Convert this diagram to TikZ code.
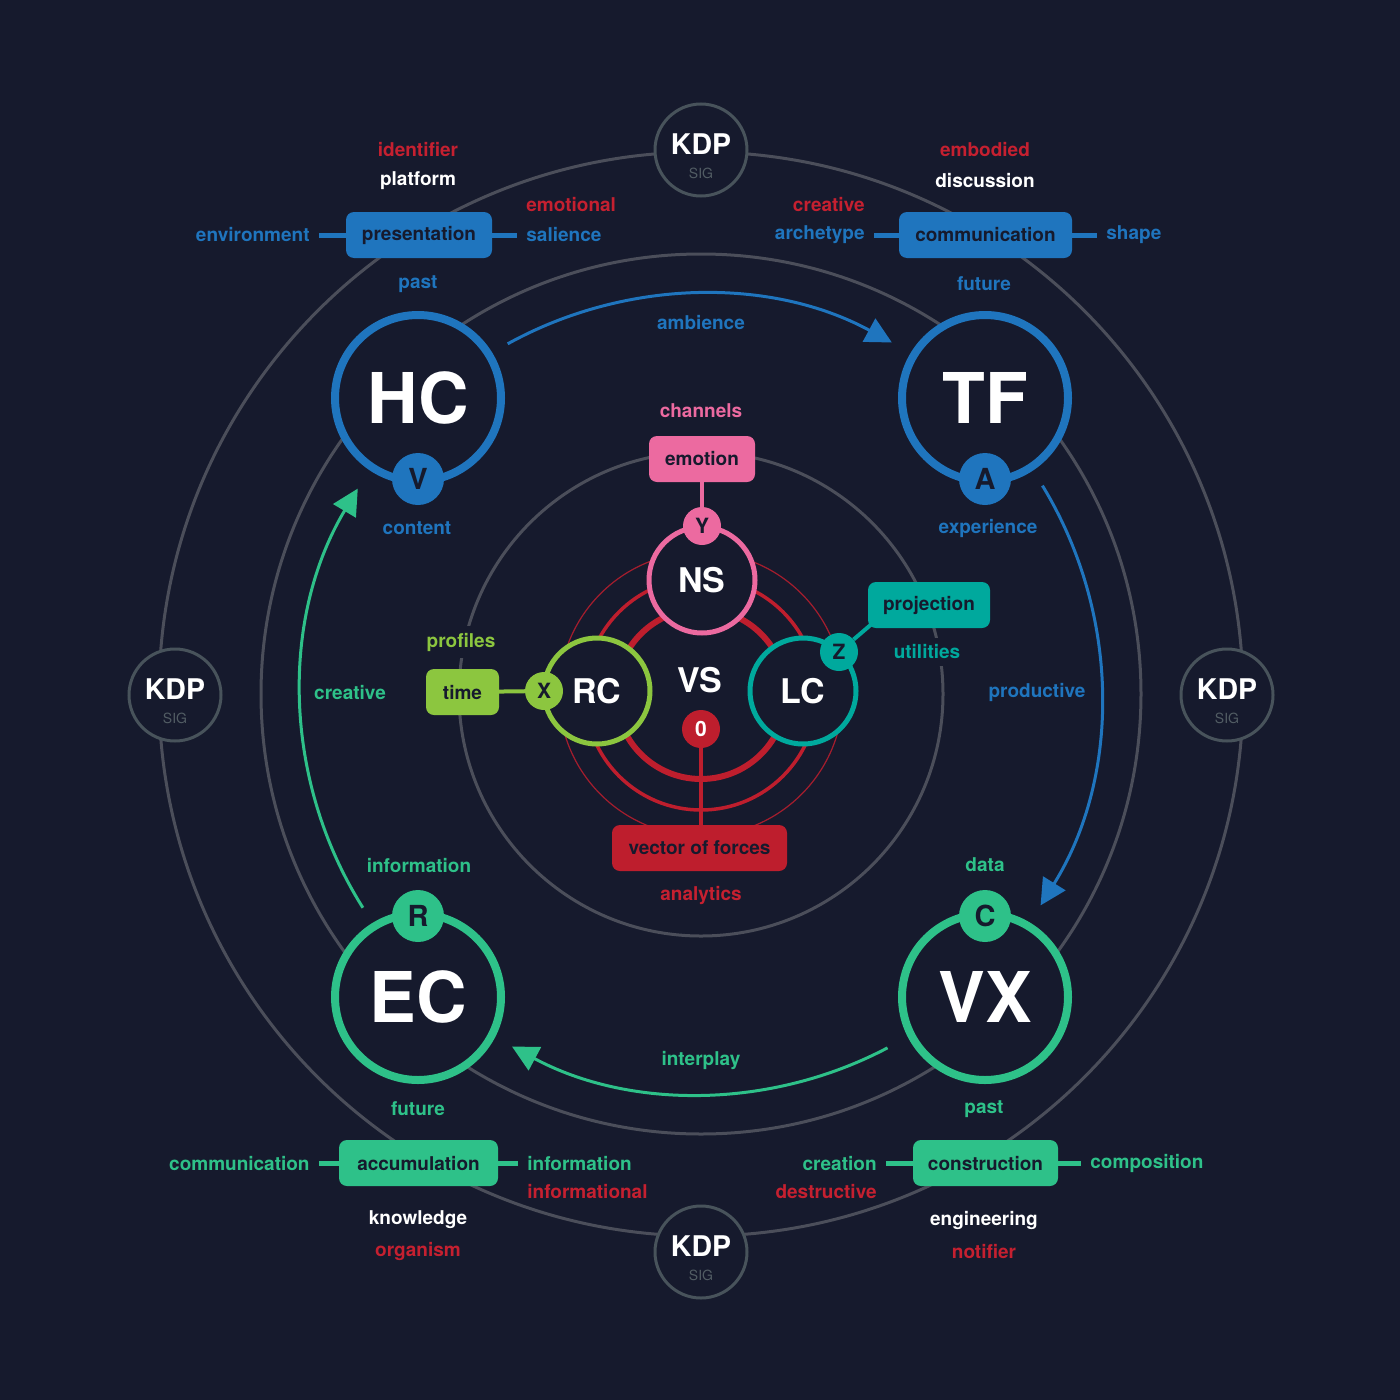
\documentclass[tikz,border=0pt]{standalone}
\usepackage{fontspec}
\setmainfont{TeX Gyre Heros}
\usetikzlibrary{arrows.meta,calc}
\definecolor{bg}{HTML}{161A2D}
\definecolor{cblue}{HTML}{1F75BE}
\definecolor{cgreen}{HTML}{2EC189}
\definecolor{cred}{HTML}{BE1E2D}
\definecolor{ctred}{HTML}{C52030}
\definecolor{cpink}{HTML}{EC6AA0}
\definecolor{clime}{HTML}{8CC63F}
\definecolor{cteal}{HTML}{00A99D}
\definecolor{cgray}{HTML}{4B4E5A}
\definecolor{kgray}{HTML}{48535B}
\definecolor{sgray}{HTML}{525D64}
\pgfdeclarelayer{back}
\pgfdeclarelayer{mid}
\pgfsetlayers{back,mid,main}
\newcommand\labfont{\fontsize{19}{21}\selectfont\bfseries}
\begin{document}
\begin{tikzpicture}[x=1pt,y=-1pt,
  lab/.style={font=\labfont, inner xsep=9, inner ysep=2},
  knock/.style={fill=bg, inner ysep=7, inner xsep=6},
  box/.style={rounded corners=8, minimum height=46, inner xsep=0, inner ysep=0, text=bg, font=\labfont},
  bigc/.style={circle, line width=8, minimum size=166, inner sep=0, fill=bg, text=white, font=\fontsize{70}{70}\selectfont\bfseries},
  tagc/.style={circle, minimum size=52, inner sep=0, text=bg, font=\fontsize{29}{29}\selectfont\bfseries},
  midc/.style={circle, line width=5, minimum size=106, inner sep=0, fill=bg, text=white, font=\fontsize{34}{34}\selectfont\bfseries},
  dotc/.style={circle, minimum size=38, inner sep=0, text=bg, font=\fontsize{21}{21}\selectfont\bfseries},
  kdpc/.style={circle, draw=kgray, line width=3, fill=bg, minimum size=92, inner sep=0},
  kdpt/.style={font=\fontsize{28.5}{28.5}\selectfont\bfseries, text=white, inner sep=0},
  sigt/.style={font=\fontsize{14}{14}\selectfont, text=sgray, inner sep=0},
  ring/.style={draw=cgray, line width=3},
  stub/.style={line width=5},
  link/.style={line width=4},
  flow/.style={line width=3, -{Triangle[length=26pt,width=26pt]}},
]
\coordinate (O) at (701,694);

% ---------- KDP markers ----------
\node[kdpc] (k1) at (701,150) {};
\node[kdpt] (k1t) at (701,144) {KDP};
\node[sigt] (k1s) at (701,173) {SIG};
\node[kdpc] (k2) at (175,695) {};
\node[kdpt] (k2t) at (175,689) {KDP};
\node[sigt] (k2s) at (175,718) {SIG};
\node[kdpc] (k3) at (1227,695) {};
\node[kdpt] (k3t) at (1227,689) {KDP};
\node[sigt] (k3s) at (1227,718) {SIG};
\node[kdpc] (k4) at (701,1252) {};
\node[kdpt] (k4t) at (701,1246) {KDP};
\node[sigt] (k4s) at (701,1275) {SIG};

% ---------- big circles ----------
\node[bigc, draw=cblue] (HC) at (418,398) {HC};
\node[bigc, draw=cblue] (TF) at (985,398) {TF};
\node[bigc, draw=cgreen] (EC) at (418,997) {EC};
\node[bigc, draw=cgreen] (VX) at (985,997) {VX};
\node[tagc, fill=cblue] (V) at (418,479) {V};
\node[tagc, fill=cblue] (A) at (985,479) {A};
\node[tagc, fill=cgreen] (R) at (418,916) {R};
\node[tagc, fill=cgreen] (C) at (985,916) {C};

% ---------- centre ----------
\node[midc, draw=cpink] (NS) at (702,580) {NS};
\node[midc, draw=clime] (RC) at (597,691) {RC};
\node[midc, draw=cteal] (LC) at (803,691) {LC};
\node[font=\fontsize{34}{34}\selectfont\bfseries, text=white] (VS) at (700,680) {VS};
\node[dotc, fill=cpink] (Y) at (702,526) {Y};
\node[dotc, fill=clime] (X) at (544,691) {X};
\node[dotc, fill=cteal] (Z) at (839,652) {Z};
\node[dotc, fill=cred, text=white] (zero) at (701,729) {0};

% ---------- boxes ----------
\node[box, fill=cblue, minimum width=146] (pres) at (419,235) {presentation};
\node[box, fill=cblue, minimum width=173] (comm) at (985.5,235) {communication};
\node[box, fill=cgreen, minimum width=159] (acc) at (418.5,1163) {accumulation};
\node[box, fill=cgreen, minimum width=145] (cons) at (985.5,1163) {construction};
\node[box, fill=cpink, minimum width=106] (emo) at (702,459) {emotion};
\node[box, fill=cteal, minimum width=122] (proj) at (929,605) {projection};
\node[box, fill=clime, minimum width=73] (time) at (462.5,692) {time};
\node[box, fill=cred, minimum width=175] (vof) at (699.5,848) {vector of forces};

% ---------- stub labels ----------
\node[lab, text=cblue, anchor=east] (env) at ([xshift=-27]pres.west) {environment};
\node[lab, text=cblue, anchor=west] (sal) at ([xshift=25]pres.east) {salience};
\node[lab, text=ctred, anchor=west] (emotional) at ([yshift=30]sal.west) {emotional};
\node[lab, text=cblue, anchor=east] (arch) at ([xshift=-25]comm.west) {archetype};
\node[lab, text=cblue, anchor=west] (shape) at ([xshift=25]comm.east) {shape};
\node[lab, text=ctred, anchor=east] (creat) at ([yshift=30]arch.east) {creative};
\node[lab, text=cgreen, anchor=east] (gcomm) at ([xshift=-20]acc.west) {communication};
\node[lab, text=cgreen, anchor=west] (ginfo) at ([xshift=20]acc.east) {information};
\node[lab, text=ctred, anchor=west] (infal) at ([yshift=-28]ginfo.west) {informational};
\node[lab, text=cgreen, anchor=east] (crea) at ([xshift=-27]cons.west) {creation};
\node[lab, text=cgreen, anchor=west] (compo) at ([xshift=23]cons.east) {composition};
\node[lab, text=ctred, anchor=east] (destr) at ([yshift=-28]crea.east) {destructive};

% ---------- free labels ----------
\node[lab, text=ctred] (ident) at (418,150) {identifier};
\node[lab, text=white] (plat) at (418,181) {platform};
\node[lab, text=cblue] (past1) at (418,284) {past};
\node[lab, text=ctred] (embo) at (985,150) {embodied};
\node[lab, text=white] (disc) at (985,181) {discussion};
\node[lab, text=cblue] (fut1) at (984,284) {future};
\node[lab, text=cblue] (amb) at (701,323) {ambience};
\node[lab, text=cpink] (chan) at (701,411) {channels};
\node[lab, text=cblue] (cont) at (417,528) {content};
\node[lab, text=cblue] (expe) at (988,528) {experience};
\node[lab, text=cteal, knock] (util) at (927,652) {utilities};
\node[lab, text=clime, knock] (prof) at (461,642) {profiles};
\node[lab, text=cblue] (prod) at (1037,692) {productive};
\node[lab, text=cgreen] (crv) at (350,692) {creative};
\node[lab, text=ctred] (anal) at (701,895) {analytics};
\node[lab, text=cgreen] (infm) at (419,865) {information};
\node[lab, text=cgreen] (data) at (985,865) {data};
\node[lab, text=cgreen] (inter) at (701,1060) {interplay};
\node[lab, text=cgreen] (fut2) at (418,1109) {future};
\node[lab, text=cgreen] (past2) at (984,1109) {past};
\node[lab, text=white] (know) at (418,1220) {knowledge};
\node[lab, text=ctred] (orga) at (418,1251) {organism};
\node[lab, text=white] (engi) at (984,1220) {engineering};
\node[lab, text=ctred] (noti) at (984,1251) {notifier};

% ---------- background layer ----------
\begin{pgfonlayer}{back}
\fill[bg] (0,0) rectangle (1400,1400);
\draw[ring] (O) circle[radius=542];
\draw[ring] (O) circle[radius=440];
\draw[ring] (O) circle[radius=242];
\draw[cred, line width=6] (O) circle[radius=85];
\draw[cred, line width=3.5] (O) circle[radius=116];
\draw[cred, line width=1.2, opacity=0.85] (O) circle[radius=142];
\end{pgfonlayer}

% ---------- connectors ----------
\begin{pgfonlayer}{mid}
\coordinate (a1s) at ($(O)+(-118.9:400)$);
\coordinate (a2s) at ($(O)+(-31.4:400)$);
\coordinate (a3s) at ($(O)+(62.2:400)$);
\coordinate (a4s) at ($(O)+(147.7:400)$);
\draw[flow, cblue] (a1s) arc[start angle=-118.9, end angle=-61.5, radius=400];
\draw[flow, cblue] (a2s) arc[start angle=-31.4, end angle=31.9, radius=400];
\draw[flow, cgreen] (a3s) arc[start angle=62.2, end angle=118.2, radius=400];
\draw[flow, cgreen] (a4s) arc[start angle=147.7, end angle=210.9, radius=400];
\draw[stub, cblue] (pres.west) -- (env.east);
\draw[stub, cblue] (pres.east) -- (sal.west);
\draw[stub, cblue] (comm.west) -- (arch.east);
\draw[stub, cblue] (comm.east) -- (shape.west);
\draw[stub, cgreen] (acc.west) -- (gcomm.east);
\draw[stub, cgreen] (acc.east) -- (ginfo.west);
\draw[stub, cgreen] (cons.west) -- (crea.east);
\draw[stub, cgreen] (cons.east) -- (compo.west);
\draw[link, cpink] (emo) -- (emo |- Y);
\draw[link, cred] (zero) -- (zero |- vof);
\draw[link, clime] (time) -- (X);
\coordinate (pj) at ($(proj.south west)+(6,-6)$);
\draw[link, cteal] (Z) -- (pj);
\end{pgfonlayer}
\end{tikzpicture}
\end{document}
